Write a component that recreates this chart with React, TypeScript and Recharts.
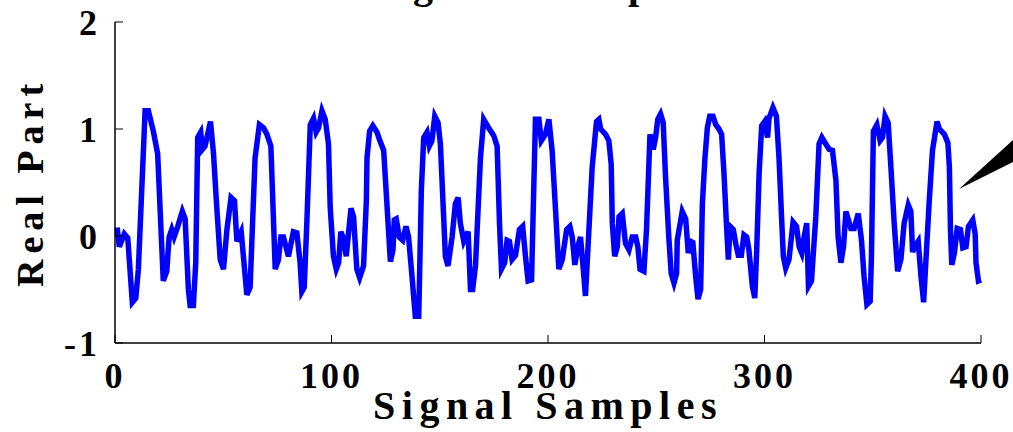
import { LineChart, Line, XAxis, YAxis, Label } from 'recharts';

// sample index / real part values
const sampleIdx = [
  1, 2, 4.3, 5.9, 8, 9.6, 10.8, 13.9, 15.4, 17.7, 19.7, 22.3, 23.9, 25, 26.2, 27.3, 29, 31.1, 32.4, 33.9,
  34.7, 36.2, 37.3, 38.2, 39.6, 40.4, 41.6, 44.1, 45.5, 47, 48.6, 50.1, 51.7, 53.6, 55.2, 56.3, 58.3, 60.9, 62.4,
  64.7, 66.7, 68.6, 70.2, 72, 74, 75.5, 76.6, 77.8, 80.1, 82.4, 84, 85.5, 86.3, 87.4, 88.6, 90.2, 91.7, 92.9, 94,
  95.6, 97.1, 98.6, 99.4, 100.9, 102.2, 103.3, 104.3, 105.3, 106.8, 109, 110.2, 111.7, 113, 114.8, 116.1, 116.4,
  117.6, 119.1, 121, 122.2, 124.1, 125.6, 127.2, 128.4, 129, 129.9,
  131.3, 132.9, 134.4, 135.6, 137.2, 138.7, 140.3, 141.5, 142.6, 144.1, 145.2, 146.4, 147.7, 149.2, 150.3, 151.8,
  152.6, 153.8, 155.7, 157.2, 158.5, 159.5, 161.1, 163.1, 164.2, 165.2, 166.5, 168.8, 170.3, 172.6, 174.9, 176.5,
  177.6, 178.5, 180, 181.1, 182.2, 183.4, 185, 186.8, 188.3, 189.6, 190.8, 192.4, 193.4, 194.2, 195.8, 196.9,
  198.8, 200.4,
  201.9, 203.5, 205, 206.6, 208.6, 210.1, 211.2, 212.4, 213.8, 215, 216.3, 217.3, 218.9, 220.4, 222.4, 223.5, 224.3,
  226.6, 228.1, 229.2, 229.7, 230.8, 232, 232.8, 234.3, 235.8, 237.4, 238.9, 240.5, 241.5, 242.5, 244.3, 245.5,
  247.1, 248.6, 249.7, 250.7, 252, 253.2, 254.3, 255.8, 256.9, 258.2, 259.4, 259.7, 262, 263.6,
  264.8, 265.9, 266.9, 268.2, 269.3, 270.5, 271.3, 272.5, 273.6, 274.7, 276.2, 277.5, 279, 280.2, 281.3, 282.4,
  283.3, 284.1, 285.6, 286.7, 287.9, 289.3, 290.5, 291.8, 292.8, 294.4, 295.5, 296.4, 297.5, 298.7, 300.1, 301.4,
  302.1, 303.9, 305.5, 306.7, 308, 308.7, 309.8, 311.3, 313.2, 314.8, 316, 317.2, 318.3, 319.5, 320.3, 321.7,
  323.7, 325.2, 326.5, 328.3, 329.9, 331.4, 333, 334, 335.3, 336.5, 337.6, 338.6, 339.9, 341.4, 343.3, 344.8,
  346, 347.3, 348.8, 349.4, 350.3, 351.9, 353.4, 354.5, 355.7, 357.1, 358.4, 359.9, 361.5, 363, 364.5, 366.4,
  367.6, 368.4, 369.4, 371, 372.3, 373.5, 374.5, 376.1, 377.6, 379.7, 380.8, 383.1, 384.7, 385.4, 385.9, 386.5,
  387.7, 389, 390.5, 391.6, 393.1, 394.2, 396.2, 397.3, 397.7, 398.8, 400,
];

const realPart = [
  0.08, -0.1, 0.02, -0.02, -0.62, -0.58, -0.31, 1.17, 1.17, 0.98, 0.77, -0.42, -0.33, -0.01, 0.06, -0.01, 0.09, 0.23, 0.16, -0.5,
  -0.65, -0.65, -0.25, 0.92, 0.97, 0.81, 0.84, 1.07, 0.77, 0.27, -0.22, -0.31, 0.06, 0.36, 0.33, -0.05, 0.04, -0.55, -0.48,
  0.73, 1.04, 1.01, 0.95, 0.84, -0.31, -0.22, -0.01, -0.01, -0.19, 0.04, 0.03, -0.25, -0.52, -0.48, 0.12, 1.04, 1.1, 0.97, 1.01,
  1.17, 1.09, 0.86, 0.27, -0.19, -0.31, -0.25, 0.04, -0.01, -0.19, 0.26, 0.18, -0.31, -0.39, -0.28, 0.33, 0.73,
  0.98, 1.03, 0.97, 0.9, 0.8, 0.3, -0.24, -0.13, 0.15, 0.16,
  -0.01, -0.04, 0.09, -0.01, -0.38, -0.75, -0.75, 0.43, 0.92, 0.97, 0.84, 0.89, 1.12, 1.06, 0.86, 0.18,
  -0.19, -0.28, -0.01, 0.3, 0.36, 0.12, -0.05, 0.04, -0.5, -0.5, -0.28, 0.73, 1.09, 1.01, 0.94, 0.84,
  0.12, -0.31, -0.25, -0.04, -0.05, -0.22, -0.18, 0.06, 0.09, -0.19, -0.42, -0.41, 0.43, 1.09, 1.09, 0.89,
  0.95, 1.09,
  0.8, 0.24, -0.31, -0.22, 0.06, 0.09, -0.01, -0.27, -0.1, -0.01, -0.31, -0.56, 0.06, 0.64, 1.07, 1.09, 1.0,
  0.95, 0.89, 0.67, 0.12, -0.19, -0.1, 0.18, 0.21, -0.07, -0.13, -0.01, -0.01, -0.1, -0.31, -0.33, 0.06,
  0.95, 0.81, 0.92, 1.09, 1.14, 1.06, 0.55, -0.01, -0.35, -0.44, -0.35, -0.04, 0.23, 0.16,
  -0.16, -0.05, -0.06, -0.38, -0.59, -0.5, 0.3, 0.73, 1.01, 1.12, 1.12, 1.04, 1.0, 0.95, 0.58, 0.12,
  -0.22, 0.09, 0.06, -0.07, -0.18, -0.18, 0.01, -0.01, -0.13, -0.47, -0.58, -0.13, 0.58, 1.03, 1.07, 0.92,
  1.1, 1.2, 1.12, 0.73, 0.12, -0.19, -0.3, -0.22, 0.13, 0.09, -0.1, -0.16, -0.01, 0.12, -0.47, -0.42,
  0.18, 0.86, 0.92, 0.86, 0.81, 0.8, 0.52, -0.01, -0.25, -0.1, 0.23, 0.16, 0.07, 0.07, 0.21, -0.04,
  -0.38, -0.64, -0.61, -0.19, 0.98, 1.04, 0.89, 0.92, 1.12, 1.06, 0.64, 0.12, -0.33, -0.22, 0.12, 0.29,
  0.23, -0.15, -0.1, -0.05, -0.38, -0.62, -0.25, 0.33, 0.8, 1.07, 1.0, 0.95, 0.87, 0.64, 0.06, -0.27,
  -0.16, 0.07, 0.06, -0.11, -0.1, 0.09, 0.15, 0.02, -0.25, -0.42, -0.41,
];

const xTicks = [0, 100, 200, 300, 400];
const yTicks = [-1, 0, 1, 2];

const data = sampleIdx.map((s, i) => ({ s, v: realPart[i] }));

const FONT = '"Liberation Serif", "Times New Roman", serif';
const tickStyle = { fontSize: 36, fontWeight: 'bold', fill: '#000', fontFamily: FONT, letterSpacing: 3 };

export default function App() {
  return (
    <div style={{ position: 'absolute', left: 0, top: 0, width: 1013, height: 432, background: '#fff' }}>
      <LineChart width={1013} height={432} data={data} margin={{ top: 22, right: 32, bottom: 9, left: 15 }}>
        <XAxis
          dataKey="s" type="number" domain={[0, 400]} ticks={xTicks} interval={0}
          height={80} tickSize={-8} tickMargin={27} tick={tickStyle}
          axisLine={{ stroke: '#000', strokeWidth: 1.5 }} tickLine={{ stroke: '#000', strokeWidth: 1 }}
        >
          <Label value="Signal Samples" position="insideBottom" offset={4}
            style={{ fontSize: 40, fontWeight: 'bold', fill: '#000', fontFamily: FONT, letterSpacing: 6.5 }} />
        </XAxis>
        <XAxis
          xAxisId="top" orientation="top" dataKey="s" type="number" domain={[0, 400]} ticks={xTicks} interval={0}
          height={0} tickSize={-8} tick={false}
          axisLine={{ stroke: '#000', strokeWidth: 1.5 }} tickLine={{ stroke: '#000', strokeWidth: 1 }}
        />
        <YAxis
          type="number" domain={[-1, 2]} ticks={yTicks} interval={0}
          width={100} tickSize={-8} tickMargin={23} tick={tickStyle}
          axisLine={{ stroke: '#000', strokeWidth: 1.5 }} tickLine={{ stroke: '#000', strokeWidth: 1 }}
        >
          <Label value="Real Part" angle={-90} position="insideLeft" offset={15}
            style={{ textAnchor: 'middle', fontSize: 38, fontWeight: 'bold', fill: '#000', fontFamily: FONT, letterSpacing: 6 }} />
        </YAxis>
        <YAxis
          yAxisId="right" orientation="right" type="number" domain={[-1, 2]} ticks={yTicks} interval={0}
          width={0} tickSize={-8} tick={false}
          axisLine={{ stroke: '#000', strokeWidth: 1.5 }} tickLine={{ stroke: '#000', strokeWidth: 1 }}
        />
        <Line type="linear" dataKey="v" stroke="#0000ff" strokeWidth={5.5} dot={false} isAnimationActive={false} />
      </LineChart>
      <svg width={1013} height={432} style={{ position: 'absolute', left: 0, top: 0, pointerEvents: 'none', overflow: 'hidden' }}>
        <text x={338} y={-2} fontSize={40} fontWeight="bold" fontFamily={FONT} letterSpacing={5} fill="#000">Original Samples</text>
        <polygon points="959,189 1013,140 1013,162" fill="#000" />
      </svg>
    </div>
  );
}
